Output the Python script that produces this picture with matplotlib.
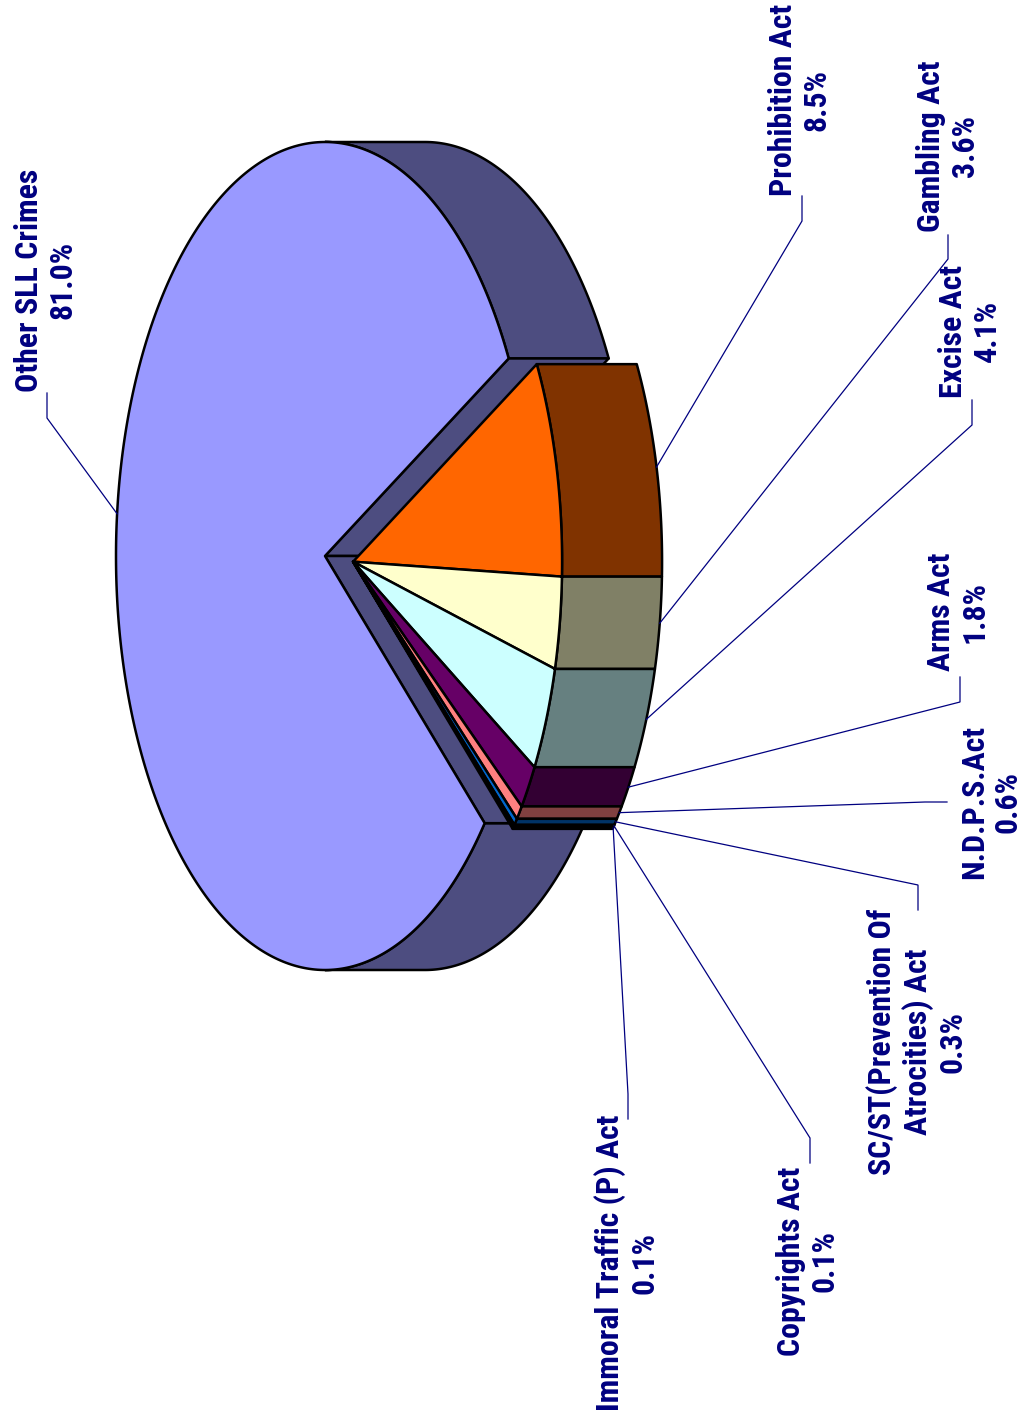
import numpy as np
import matplotlib
matplotlib.use("Agg")
import matplotlib.pyplot as plt
from matplotlib.patches import Polygon
from matplotlib import font_manager
from matplotlib.colors import to_rgb

# slice data, clockwise from the top of the exploded wedge
categories = ["Prohibition Act", "Gambling Act", "Excise Act", "Arms Act", "N.D.P.S.Act",
              "SC/ST(Prevention Of\nAtrocities) Act", "Copyrights Act",
              "Immoral Traffic (P) Act", "Other SLL Crimes"]
shares = [8.5, 3.6, 4.1, 1.8, 0.6, 0.3, 0.1, 0.1, 81.0]
top_colors = ["#FF6600", "#FFFFCC", "#CCFFFF", "#660066", "#FF8080",
              "#0066CC", "#CCCCFF", "#000080", "#9999FF"]
exploded = [True, True, True, True, True, True, True, True, False]

# layout in pixels
W, H = 1031, 1416
cx, cy = 325, 556
rx, ry = 209, 414
depth = 100
start_angle = 28.5
explode_frac = 0.135

# label centres, leader knee and stub end
label_pos = [(800, 100), (948, 146), (970, 331), (958, 612), (991, 802),
             (917, 1042), (808, 1261), (627, 1263), (46, 280)]
leader_knee = [(802, 221), (948, 259), (972, 425), (960, 702), (925, 802),
               (918, 885), (810, 1138), (628, 1094), (47, 418)]
leader_end = [(802, 196), (948, 235), (972, 400), (960, 677), (947, 802),
              (918, 910), (810, 1163), (628, 1119), (47, 393)]


def pick_font():
    # want something like Arial Narrow Bold
    prefs = ["liberationsansnarrow", "arialnarrow", "arialn", "robotocondensed",
             "opensanscondensed", "notosanscondensed", "dejavusanscondensed", "condensed", "narrow"]
    found = []
    for f in font_manager.fontManager.ttflist:
        fn = f.fname.lower().replace("-", "").replace("_", "").replace(" ", "")
        if "italic" in fn or "oblique" in fn:
            continue
        if "bold" not in fn or "semibold" in fn or "extrabold" in fn:
            continue
        for rank, p in enumerate(prefs):
            if p in fn:
                found.append((rank, f.fname))
                break
    if found:
        return font_manager.FontProperties(fname=sorted(found)[0][1])
    return font_manager.FontProperties(family="Liberation Sans", weight="bold")


EDGE = dict(edgecolor="black", linewidth=1.8, joinstyle="round")


def pt(phi, ox, oy, dx=0.0):
    r = np.radians(phi)
    return np.column_stack([ox + rx * np.cos(r) + dx, oy - ry * np.sin(r)])


def darker(c):
    return tuple(v * 0.5 for v in to_rgb(c))


fig = plt.figure(figsize=(W / 100, H / 100), dpi=100)
ax = fig.add_axes([0, 0, 1, 1])
ax.set_xlim(0, W)
ax.set_ylim(H, 0)
ax.axis("off")

# size the label font so "Other SLL Crimes" is about 224 px long
fp = pick_font()
fp.set_size(23)
probe = ax.text(0, 0, "Other SLL Crimes", fontproperties=fp)
renderer = fig.canvas.get_renderer()
w = probe.get_window_extent(renderer).width
probe.remove()
fp.set_size(min(24, 23 * 224 / w))

total = sum(shares)
spans = []
a = start_angle
for s in shares:
    b = a - s / total * 360
    spans.append((b, a))
    a = b

# explode offset along the middle of the exploded group
grp = [sp for sp, e in zip(spans, exploded) if e]
mid_grp = (grp[0][1] + grp[-1][0]) / 2
ex = explode_frac * rx * np.cos(np.radians(mid_grp))
ey = -explode_frac * ry * np.sin(np.radians(mid_grp))

anchors = {}
order = [i for i, e in enumerate(exploded) if not e] + [i for i, e in enumerate(exploded) if e]
for i in order:
    lo, hi = spans[i]
    ox, oy = (cx + ex, cy + ey) if exploded[i] else (cx, cy)
    side = darker(top_colors[i])

    # visible outer side (normal facing +x)
    for k in range(-2, 2):
        s0 = max(lo, -90 + 360 * k)
        s1 = min(hi, 90 + 360 * k)
        if s1 > s0:
            ph = np.linspace(s0, s1, 200)
            poly = np.vstack([pt(ph, ox, oy), pt(ph[::-1], ox, oy, depth)])
            ax.add_patch(Polygon(poly, closed=True, facecolor=side, **EDGE))

    # cut faces of the piece left behind
    if not exploded[i]:
        for phi in (lo, hi):
            p = pt([phi], ox, oy)[0]
            poly = [(ox, oy), p, (p[0] + depth, p[1]), (ox + depth, oy)]
            ax.add_patch(Polygon(poly, closed=True, facecolor=side, **EDGE))

    ph = np.linspace(lo, hi, 400)
    top = np.vstack([[ox, oy], pt(ph, ox, oy)])
    ax.add_patch(Polygon(top, closed=True, facecolor=top_colors[i], **EDGE))

    mid = (lo + hi) / 2
    off = depth if np.cos(np.radians(mid)) > 0 else 0
    anchors[i] = pt([mid], ox, oy, off)[0]

for i, cat in enumerate(categories):
    p = anchors[i]
    kx, ky = leader_knee[i]
    sx, sy = leader_end[i]
    ax.plot([p[0], kx, sx], [p[1], ky, sy], color="#000080", lw=0.9,
            solid_joinstyle="miter")
    ax.text(label_pos[i][0], label_pos[i][1], f"{cat}\n{shares[i]:.1f}%",
            rotation=90, ha="center", va="center", multialignment="center",
            fontproperties=fp, color="#000080", linespacing=1.15)

fig.savefig("out.png", dpi=100)
